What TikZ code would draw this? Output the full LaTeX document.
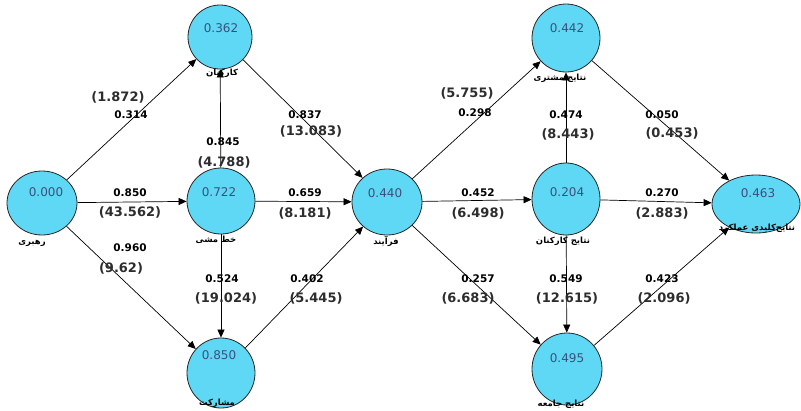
\documentclass[tikz,border=0pt]{standalone}
\usepackage{fontspec}
\setmainfont{DejaVu Sans}
\newfontfamily\fa[Script=Arabic]{DejaVu Sans}
\TeXXeTstate=1
\usetikzlibrary{shapes.geometric,arrows.meta}
\definecolor{nodefill}{RGB}{95,216,245}
\definecolor{valcol}{RGB}{60,80,125}
\definecolor{tcol}{RGB}{45,45,45}
\begin{document}
\begin{tikzpicture}[x=1pt,y=-1pt,
 lv/.style={ellipse,draw=black!85,line width=0.8pt,fill=nodefill,inner sep=0pt},
 val/.style={font=\fontsize{12}{12}\selectfont,text=valcol},
 nm/.style={font=\fa\bfseries\fontsize{8.5}{9}\selectfont,inner sep=1pt},
 coef/.style={font=\bfseries\fontsize{10.5}{11}\selectfont,inner sep=0pt},
 tval/.style={font=\bfseries\fontsize{13}{13}\selectfont,text=tcol,inner sep=0pt},
 conn/.style={-{Triangle[length=8pt,width=7pt]},line width=0.7pt,black}
]
\path[use as bounding box] (0,0) rectangle (801,410);
\fill[white] (0,0) rectangle (801,410);
% latent variables
\node[lv,minimum width=70pt,minimum height=64pt] (L) at (42,203) {};
\node[lv,minimum width=64pt,minimum height=64pt] (K) at (220,37) {};
\node[lv,minimum width=68pt,minimum height=66pt] (P) at (221,201) {};
\node[lv,minimum width=68pt,minimum height=70pt] (M) at (221,373) {};
\node[lv,minimum width=70pt,minimum height=66pt] (F) at (387,202) {};
\node[lv,minimum width=68pt,minimum height=68pt] (C) at (566,38) {};
\node[lv,minimum width=68pt,minimum height=72pt] (E) at (566,199) {};
\node[lv,minimum width=70pt,minimum height=72pt] (J) at (567,369) {};
\node[lv,minimum width=88pt,minimum height=58pt] (R) at (756,204) {};
% values
\node[val] (Lv) at (46,192) {0.000};
\node[val] (Kv) at (221,28) {0.362};
\node[val] (Pv) at (219,192) {0.722};
\node[val] (Mv) at (219,355) {0.850};
\node[val] (Fv) at (385,193) {0.440};
\node[val] (Cv) at (567,28) {0.442};
\node[val] (Ev) at (567,192) {0.204};
\node[val] (Jv) at (567,358) {0.495};
\node[val] (Rv) at (758,193) {0.463};
% paths
\draw[conn] (L) -- (K);
\draw[conn] (L) -- (P);
\draw[conn] (L) -- (M);
\draw[conn] (P) -- (K);
\draw[conn] (K) -- (F);
\draw[conn] (P) -- (F);
\draw[conn] (P) -- (M);
\draw[conn] (M) -- (F);
\draw[conn] (F) -- (C);
\draw[conn] (F) -- (E);
\draw[conn] (F) -- (J);
\draw[conn] (E) -- (C);
\draw[conn] (E) -- (J);
\draw[conn] (C) -- (R);
\draw[conn] (E) -- (R);
\draw[conn] (J) -- (R);
% names
\node[nm] (Ln) at (32,243) {\beginR رهبری\endR};
\node[nm] (Kn) at (222,73) {\beginR کارکنان\endR};
\node[nm] (Pn) at (216,240) {\beginR خط مشی\endR};
\node[nm] (Mn) at (217,403) {\beginR مشارکت\endR};
\node[nm] (Fn) at (386,241) {\beginR فرآیند\endR};
\node[nm] (Cn) at (560,78) {\beginR نتایج مشتری\endR};
\node[nm] (En) at (563,241) {\beginR نتایج کارکنان\endR};
\node[nm] (Jn) at (561,404) {\beginR نتایج جامعه\endR};
\node[nm] (Rn) at (757,228) {\beginR نتایج‌کلیدی عملکرد\endR};
% coefficients and t-values
\node[tval] (t1) at (118,97) {(1.872)};
\node[coef] (c1) at (131,115) {0.314};
\node[coef] (c2) at (130,193) {0.850};
\node[tval] (t2) at (130,212) {(43.562)};
\node[coef] (c3) at (130,248) {0.960};
\node[tval] (t3) at (121,268) {(9.62)};
\node[coef] (c4) at (223,142) {0.845};
\node[tval] (t4) at (224,162) {(4.788)};
\node[coef] (c5) at (305,115) {0.837};
\node[tval] (t5) at (311,131) {(13.083)};
\node[coef] (c6) at (305,193) {0.659};
\node[tval] (t6) at (305,213) {(8.181)};
\node[coef] (c7) at (222,279) {0.524};
\node[tval] (t7) at (226,298) {(19.024)};
\node[coef] (c8) at (307,279) {0.402};
\node[tval] (t8) at (316,298) {(5.445)};
\node[tval] (t9) at (467,93) {(5.755)};
\node[coef] (c9) at (475,113) {0.298};
\node[coef] (c10) at (478,193) {0.452};
\node[tval] (t10) at (478,213) {(6.498)};
\node[coef] (c11) at (478,279) {0.257};
\node[tval] (t11) at (468,298) {(6.683)};
\node[coef] (c12) at (566,115) {0.474};
\node[tval] (t12) at (568,134) {(8.443)};
\node[coef] (c13) at (566,279) {0.549};
\node[tval] (t13) at (567,298) {(12.615)};
\node[coef] (c14) at (662,115) {0.050};
\node[tval] (t14) at (672,133) {(0.453)};
\node[coef] (c15) at (662,193) {0.270};
\node[tval] (t15) at (662,213) {(2.883)};
\node[coef] (c16) at (662,279) {0.423};
\node[tval] (t16) at (664,298) {(2.096)};
\end{tikzpicture}
\end{document}
